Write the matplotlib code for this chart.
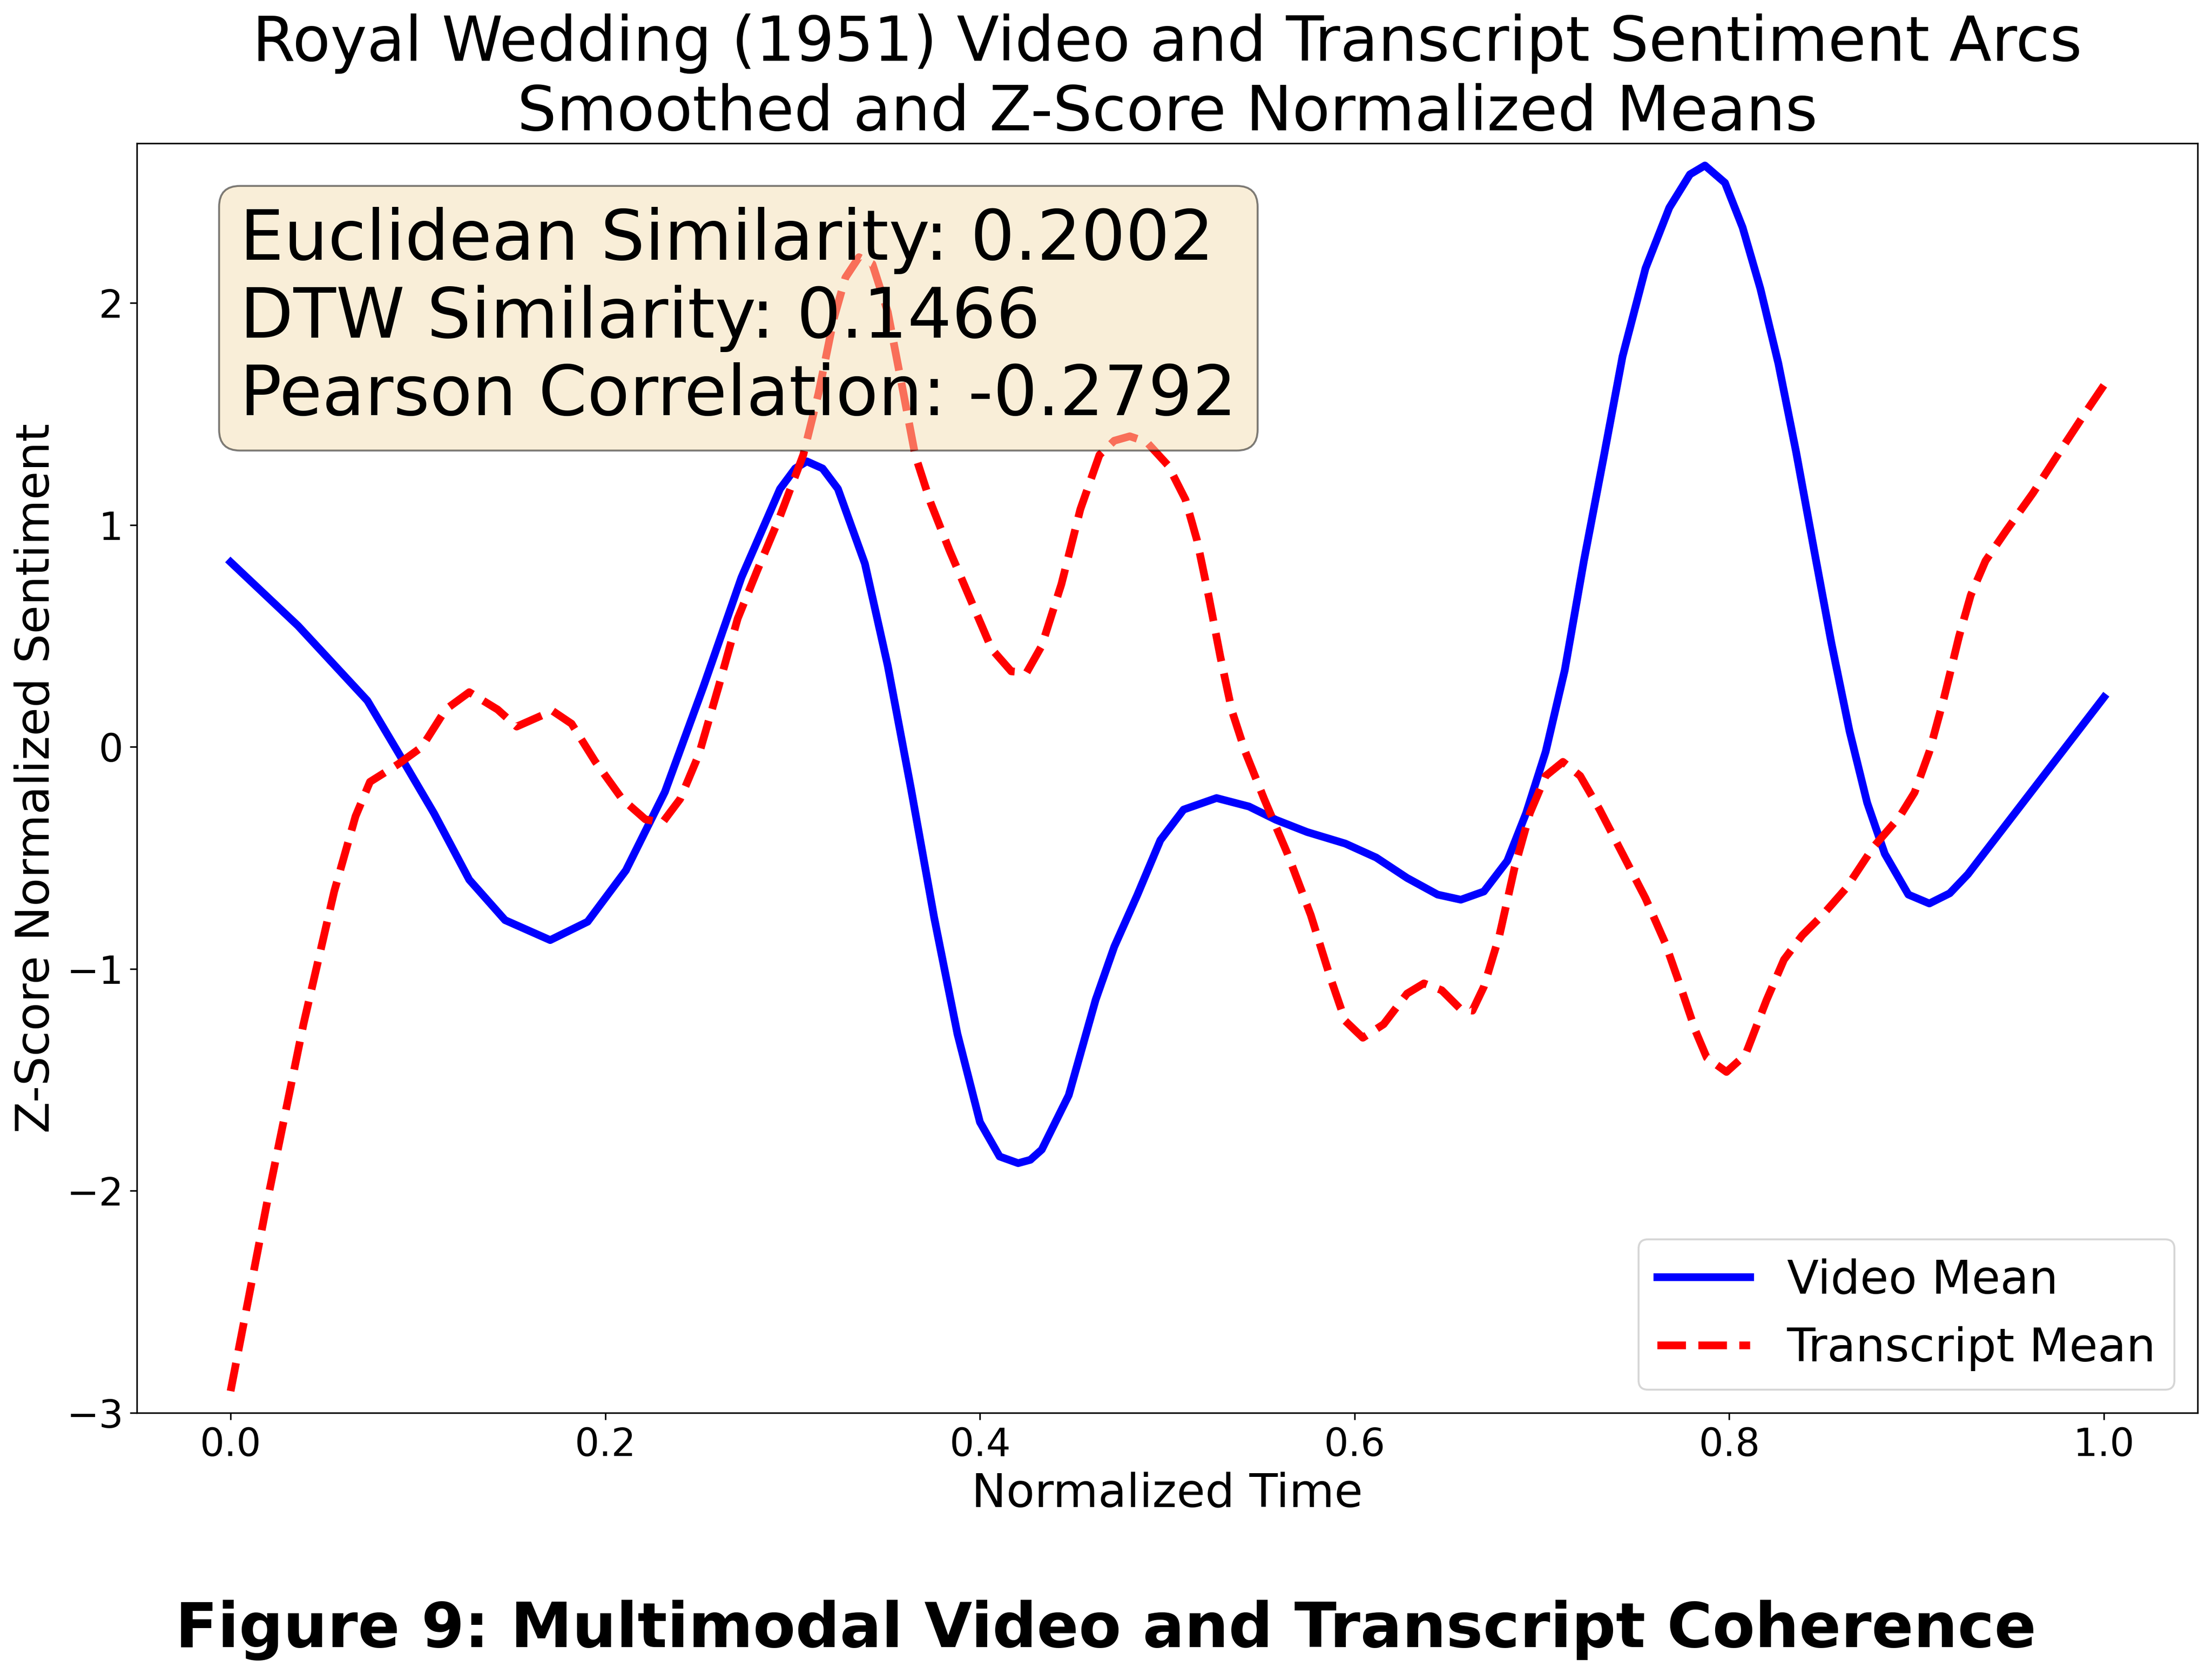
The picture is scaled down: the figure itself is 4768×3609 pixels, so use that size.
import matplotlib
matplotlib.use('Agg')
from matplotlib import pyplot as plt

# values
video_t = [0.000, 0.036, 0.073, 0.0895, 0.1086, 0.1274, 0.1465, 0.1706, 0.1906, 0.211,
           0.2318, 0.2524, 0.2727, 0.2933, 0.3014, 0.3076, 0.316, 0.3242, 0.3386, 0.3508,
           0.3632, 0.3756, 0.388, 0.400, 0.4105, 0.4204, 0.4269, 0.433, 0.4474, 0.4618,
           0.4717, 0.4841, 0.4963, 0.5087, 0.5263, 0.5436, 0.558, 0.5746, 0.595, 0.6115,
           0.628, 0.6443, 0.6567, 0.669, 0.6815, 0.6916, 0.702, 0.7122, 0.7224, 0.7328,
           0.743, 0.7553, 0.768, 0.779, 0.787, 0.7977, 0.8071, 0.8166, 0.8262, 0.8357,
           0.845, 0.8545, 0.8642, 0.8736, 0.883, 0.8956, 0.9068, 0.9177, 0.9274, 1.000]
video_mean = [0.833, 0.546, 0.209, -0.025, -0.299, -0.598, -0.780, -0.870, -0.787, -0.556,
              -0.203, 0.272, 0.764, 1.163, 1.255, 1.287, 1.255, 1.163, 0.826, 0.366,
              -0.188, -0.770, -1.293, -1.690, -1.845, -1.875, -1.860, -1.814, -1.569, -1.138,
              -0.90, -0.665, -0.420, -0.282, -0.230, -0.268, -0.328, -0.383, -0.435, -0.498,
              -0.590, -0.665, -0.688, -0.651, -0.513, -0.297, -0.021, 0.347, 0.839, 1.299,
              1.759, 2.157, 2.43, 2.58, 2.62, 2.542, 2.341, 2.065, 1.728, 1.328,
              0.900, 0.469, 0.071, -0.251, -0.481, -0.665, -0.705, -0.659, -0.573, 0.224]

trans_t = [0.000, 0.020, 0.0389, 0.0553, 0.0667, 0.0744, 0.0895, 0.1021, 0.1148, 0.1274,
           0.1425, 0.1527, 0.1629, 0.1718, 0.182, 0.1946, 0.209, 0.2214, 0.2305, 0.240,
           0.250, 0.2605, 0.2707, 0.2811, 0.2933, 0.3057, 0.3138, 0.322, 0.3282, 0.3354,
           0.3426, 0.3508, 0.3592, 0.3654, 0.3736, 0.3837, 0.3961, 0.4063, 0.4167, 0.4249,
           0.433, 0.4435, 0.4536, 0.4638, 0.4717, 0.480, 0.489, 0.5005, 0.5097, 0.5159,
           0.522, 0.5283, 0.5345, 0.5416, 0.5518, 0.5642, 0.5766, 0.5868, 0.595, 0.6044,
           0.6155, 0.628, 0.637, 0.6465, 0.6567, 0.6629, 0.669, 0.6773, 0.6854, 0.6936,
           0.702, 0.7112, 0.7204, 0.7308, 0.743, 0.7553, 0.7657, 0.774, 0.782, 0.788,
           0.7985, 0.8086, 0.8198, 0.8292, 0.8389, 0.8498, 0.8624, 0.8768, 0.8909, 0.8989,
           0.9068, 0.9147, 0.9227, 0.9289, 0.9368, 0.948, 0.9621, 0.9762, 0.9906, 1.000]
trans_mean = [-2.902, -2.029, -1.249, -0.651, -0.312, -0.157, -0.077, 0.000, 0.169, 0.247,
              0.169, 0.092, 0.130, 0.163, 0.105, -0.065, -0.234, -0.326, -0.341, -0.234,
              -0.033, 0.272, 0.579, 0.795, 1.040, 1.316, 1.592, 1.931, 2.115, 2.207,
              2.176, 1.960, 1.592, 1.316, 1.102, 0.887, 0.642, 0.441, 0.341, 0.335,
              0.456, 0.734, 1.071, 1.316, 1.38, 1.400, 1.374, 1.268, 1.115, 0.931,
              0.684, 0.408, 0.163, -0.021, -0.236, -0.481, -0.757, -1.033, -1.234, -1.310,
              -1.249, -1.111, -1.065, -1.096, -1.182, -1.188, -1.080, -0.849, -0.544, -0.297,
              -0.130, -0.067, -0.130, -0.282, -0.481, -0.682, -0.881, -1.080, -1.280, -1.40,
              -1.464, -1.387, -1.142, -0.958, -0.849, -0.757, -0.636, -0.452, -0.314, -0.205,
              -0.021, 0.224, 0.500, 0.684, 0.839, 0.977, 1.144, 1.328, 1.513, 1.63]

euclid = 0.2002
dtw = 0.1466
pearson = -0.2792

fig, ax = plt.subplots(figsize=(4768 / 300, 3609 / 300), dpi=300)
fig.subplots_adjust(left=0.0619, right=0.9935, bottom=0.156, top=0.9144)

ax.plot(video_t, video_mean, c='blue', lw=4, label='Video Mean')
ax.plot(trans_t, trans_mean, c='red', lw=4, ls='--', label='Transcript Mean')

ax.set_ylim(-3.0, 2.72)
ax.set_title('Royal Wedding (1951) Video and Transcript Sentiment Arcs\n'
             'Smoothed and Z-Score Normalized Means', fontsize=32)
ax.set_xlabel('Normalized Time', fontsize=24)
ax.set_ylabel('Z-Score Normalized Sentiment', fontsize=24)
ax.tick_params(labelsize=20)
ax.legend(loc='lower right', fontsize=24)

stats = ('Euclidean Similarity: {:.4f}\nDTW Similarity: {:.4f}\n'
         'Pearson Correlation: {:.4f}'.format(euclid, dtw, pearson))
ax.text(0.05, 0.95, stats, transform=ax.transAxes, fontsize=36, va='top',
        bbox=dict(boxstyle='round', facecolor='wheat', alpha=0.5))

fig.text(0.5, 0.016, 'Figure 9: Multimodal Video and Transcript Coherence',
         ha='center', va='baseline', fontsize=32, fontweight='bold')

fig.savefig('out.png', dpi=300)
